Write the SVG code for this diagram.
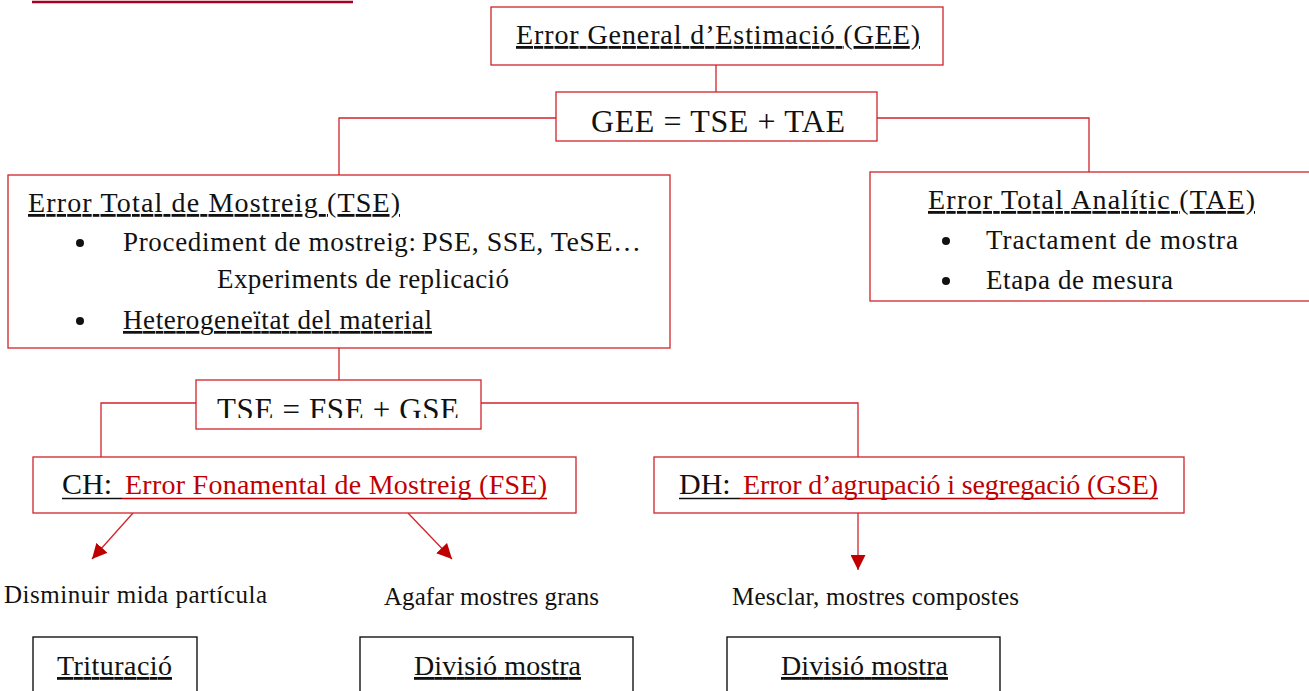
<svg xmlns="http://www.w3.org/2000/svg" width="1309" height="691" viewBox="0 0 1309 691">
<style>
.box{fill:#fff;stroke:#d2232a;stroke-width:1.3}
.bbox{fill:#fff;stroke:#000;stroke-width:1.3}
.conn{fill:none;stroke:#d2232a;stroke-width:1.3}
.t{font-family:"Liberation Serif",serif;fill:#111}
.u{text-decoration:underline}
.red{fill:#c00000}
</style>
<defs>
<marker id="ah" viewBox="0 0 10 10" refX="10" refY="5" markerWidth="15" markerHeight="15" markerUnits="userSpaceOnUse" orient="auto"><path d="M0,0 L10,5 L0,10 z" fill="#c00000"/></marker>
<clipPath id="cTAE"><rect x="870" y="172" width="439" height="119"/></clipPath>
<clipPath id="cTF"><rect x="196" y="380" width="285" height="38"/></clipPath>
</defs>
<rect width="1309" height="691" fill="#fff"/>
<line x1="32" y1="2" x2="353" y2="2" stroke="#a50021" stroke-width="2.5"/>
<g id="connectors">
<line class="conn" x1="716" y1="65" x2="716" y2="92"/>
<polyline class="conn" points="556,118 339,118 339,175"/>
<polyline class="conn" points="877,118 1089,118 1089,172"/>
<line class="conn" x1="339" y1="348" x2="339" y2="380"/>
<polyline class="conn" points="196,403 101,403 101,457"/>
<polyline class="conn" points="481,403 858,403 858,457"/>
<line class="conn" x1="133" y1="513" x2="92" y2="559" marker-end="url(#ah)"/>
<line class="conn" x1="408" y1="513" x2="452" y2="559" marker-end="url(#ah)"/>
<line class="conn" x1="858" y1="513" x2="858" y2="570" marker-end="url(#ah)"/>
</g>
<g id="gee">
<rect class="box" x="491" y="7" width="452" height="58"/>
<text class="t u" x="516" y="44" font-size="28" textLength="404">Error General d’Estimació (GEE)</text>
</g>
<g id="gee-eq">
<rect class="box" x="556" y="92" width="321" height="49"/>
<text class="t" x="591" y="132" font-size="32" textLength="254">GEE = TSE + TAE</text>
</g>
<g id="tse">
<rect class="box" x="8" y="175" width="662" height="173"/>
<text class="t u" x="28" y="212" font-size="28" textLength="372">Error Total de Mostreig (TSE)</text>
<circle cx="80" cy="243" r="4" fill="#111"/>
<text class="t" x="123" y="251" font-size="27" textLength="293">Procediment de mostreig:</text>
<text class="t" x="422" y="251" font-size="28" textLength="219">PSE, SSE, TeSE…</text>
<text class="t" x="217" y="288" font-size="27" textLength="292">Experiments de replicació</text>
<circle cx="80" cy="321" r="4" fill="#111"/>
<text class="t u" x="123" y="329" font-size="27" textLength="309">Heterogeneïtat del material</text>
</g>
<g id="tae">
<rect class="box" x="870" y="172" width="445" height="129"/>
<g clip-path="url(#cTAE)">
<text class="t u" x="928" y="209" font-size="28" textLength="327">Error Total Analític (TAE)</text>
<circle cx="946" cy="241" r="4" fill="#111"/>
<text class="t" x="986" y="249" font-size="27" textLength="252">Tractament de mostra</text>
<circle cx="946" cy="281" r="4" fill="#111"/>
<text class="t" x="986" y="289" font-size="27" textLength="187">Etapa de mesura</text>
</g>
</g>
<g id="tse-eq">
<rect class="box" x="196" y="380" width="285" height="49"/>
<text class="t" x="217" y="420" font-size="31" textLength="242" clip-path="url(#cTF)">TSE = FSE + GSE</text>
</g>
<g id="fse">
<rect class="box" x="33" y="457" width="543" height="56"/>
<text class="t" x="62" y="494" font-size="30">CH:</text>
<text class="t red" x="125" y="494" font-size="28" textLength="422">Error Fonamental de Mostreig (FSE)</text>
<line x1="62" y1="498.5" x2="122" y2="498.5" stroke="#111" stroke-width="1.6"/>
<line x1="122" y1="498.5" x2="547" y2="498.5" stroke="#c00000" stroke-width="1.6"/>
</g>
<g id="gse">
<rect class="box" x="654" y="457" width="530" height="56"/>
<text class="t" x="679" y="494" font-size="30">DH:</text>
<text class="t red" x="743" y="494" font-size="28" textLength="415">Error d’agrupació i segregació (GSE)</text>
<line x1="679" y1="498.5" x2="740" y2="498.5" stroke="#111" stroke-width="1.6"/>
<line x1="740" y1="498.5" x2="1158" y2="498.5" stroke="#c00000" stroke-width="1.6"/>
</g>
<g id="labels">
<text class="t" x="4" y="603" font-size="25" textLength="263">Disminuir mida partícula</text>
<text class="t" x="384" y="605" font-size="25" textLength="215">Agafar mostres grans</text>
<text class="t" x="732" y="605" font-size="25" textLength="287">Mesclar, mostres compostes</text>
</g>
<g id="trit">
<rect class="bbox" x="33" y="637" width="164" height="60"/>
<text class="t u" x="57" y="675" font-size="28" textLength="115">Trituració</text>
</g>
<g id="div1">
<rect class="bbox" x="360" y="637" width="273" height="60"/>
<text class="t u" x="414" y="675" font-size="28" textLength="167">Divisió mostra</text>
</g>
<g id="div2">
<rect class="bbox" x="727" y="637" width="273" height="60"/>
<text class="t u" x="781" y="675" font-size="28" textLength="167">Divisió mostra</text>
</g>
</svg>
